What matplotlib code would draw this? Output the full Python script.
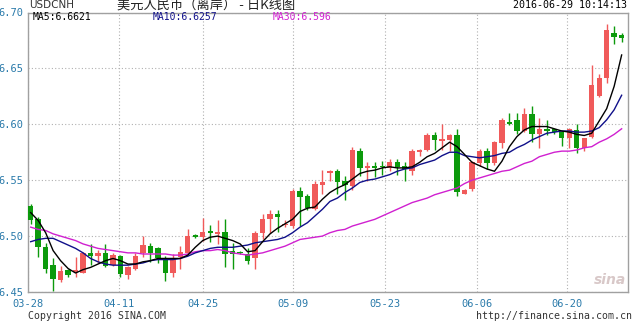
import matplotlib
matplotlib.use("Agg")
import matplotlib.pyplot as plt
import numpy as np

# daily bars USD/CNH, 2016-03-28 .. 2016-06-29 (incl. short weekend bars)
opens = [6.527, 6.515, 6.490, 6.474, 6.461, 6.470, 6.468, 6.467, 6.485, 6.482,
         6.485, 6.474, 6.482, 6.465, 6.471, 6.485, 6.491, 6.489, 6.480, 6.467,
         6.481, 6.485, 6.501, 6.499, 6.505, 6.502, 6.504, 6.487, 6.486, 6.484,
         6.480, 6.503, 6.515, 6.520, 6.510, 6.509, 6.540, 6.536, 6.524, 6.546,
         6.556, 6.558, 6.549, 6.545, 6.576, 6.561, 6.563, 6.563, 6.561, 6.566,
         6.563, 6.558, 6.575, 6.577, 6.590, 6.585, 6.586, 6.590, 6.538, 6.542,
         6.565, 6.576, 6.565, 6.583, 6.602, 6.604, 6.594, 6.609, 6.591, 6.596,
         6.596, 6.593, 6.588, 6.595, 6.579, 6.589, 6.625, 6.641, 6.682, 6.680]
highs = [6.529, 6.517, 6.494, 6.480, 6.473, 6.471, 6.481, 6.486, 6.493, 6.488,
         6.493, 6.485, 6.483, 6.473, 6.485, 6.500, 6.494, 6.490, 6.482, 6.484,
         6.491, 6.506, 6.502, 6.516, 6.510, 6.514, 6.515, 6.494, 6.487, 6.489,
         6.505, 6.520, 6.523, 6.523, 6.514, 6.542, 6.544, 6.538, 6.549, 6.559,
         6.559, 6.560, 6.554, 6.580, 6.579, 6.566, 6.566, 6.567, 6.569, 6.569,
         6.566, 6.578, 6.578, 6.592, 6.593, 6.600, 6.591, 6.596, 6.542, 6.567,
         6.578, 6.579, 6.585, 6.606, 6.610, 6.610, 6.615, 6.616, 6.606, 6.604,
         6.596, 6.594, 6.597, 6.600, 6.588, 6.653, 6.645, 6.690, 6.688, 6.682]
lows = [6.511, 6.481, 6.467, 6.451, 6.459, 6.463, 6.463, 6.467, 6.474, 6.476,
        6.472, 6.473, 6.463, 6.462, 6.470, 6.481, 6.477, 6.476, 6.460, 6.463,
        6.471, 6.483, 6.498, 6.496, 6.495, 6.493, 6.472, 6.471, 6.484, 6.475,
        6.471, 6.497, 6.503, 6.504, 6.508, 6.507, 6.509, 6.523, 6.523, 6.538,
        6.549, 6.538, 6.532, 6.541, 6.554, 6.549, 6.553, 6.555, 6.558, 6.555,
        6.549, 6.555, 6.572, 6.576, 6.577, 6.577, 6.576, 6.536, 6.538, 6.540,
        6.563, 6.560, 6.564, 6.579, 6.599, 6.591, 6.593, 6.584, 6.579, 6.590,
        6.591, 6.581, 6.579, 6.574, 6.576, 6.588, 6.624, 6.637, 6.672, 6.674]
closes = [6.514, 6.490, 6.471, 6.462, 6.469, 6.465, 6.470, 6.485, 6.482, 6.485,
          6.473, 6.483, 6.466, 6.472, 6.482, 6.492, 6.485, 6.480, 6.467, 6.480,
          6.486, 6.500, 6.499, 6.504, 6.503, 6.504, 6.484, 6.484, 6.485, 6.478,
          6.503, 6.515, 6.520, 6.517, 6.511, 6.540, 6.535, 6.525, 6.547, 6.548,
          6.558, 6.548, 6.546, 6.577, 6.561, 6.563, 6.561, 6.562, 6.566, 6.562,
          6.560, 6.576, 6.577, 6.590, 6.586, 6.587, 6.590, 6.539, 6.541, 6.566,
          6.576, 6.565, 6.584, 6.604, 6.600, 6.594, 6.609, 6.591, 6.596, 6.594,
          6.593, 6.588, 6.596, 6.579, 6.588, 6.635, 6.641, 6.684, 6.678, 6.677]

# moving averages as shown on the chart
ma5 = [6.521, 6.514, 6.503, 6.487, 6.478, 6.471, 6.467, 6.470, 6.472, 6.475,
       6.478, 6.480, 6.478, 6.475, 6.475, 6.477, 6.478, 6.480, 6.480, 6.480,
       6.480, 6.483, 6.490, 6.496, 6.499, 6.500, 6.498, 6.496, 6.493, 6.486,
       6.487, 6.495, 6.502, 6.507, 6.511, 6.515, 6.522, 6.525, 6.526, 6.533,
       6.539, 6.543, 6.546, 6.551, 6.556, 6.558, 6.559, 6.561, 6.562, 6.561,
       6.561, 6.562, 6.566, 6.571, 6.574, 6.579, 6.584, 6.580, 6.573, 6.566,
       6.563, 6.560, 6.558, 6.567, 6.580, 6.589, 6.595, 6.598, 6.598, 6.598,
       6.596, 6.594, 6.593, 6.591, 6.590, 6.592, 6.603, 6.614, 6.634, 6.662]
ma10 = [6.495, 6.497, 6.498, 6.498, 6.495, 6.492, 6.489, 6.485, 6.480, 6.477,
        6.475, 6.474, 6.474, 6.474, 6.475, 6.476, 6.478, 6.479, 6.479, 6.479,
        6.480, 6.482, 6.485, 6.487, 6.489, 6.490, 6.490, 6.490, 6.491, 6.492,
        6.494, 6.495, 6.496, 6.497, 6.499, 6.503, 6.508, 6.512, 6.518, 6.524,
        6.531, 6.534, 6.539, 6.543, 6.548, 6.550, 6.551, 6.553, 6.555, 6.558,
        6.560, 6.561, 6.564, 6.566, 6.568, 6.572, 6.575, 6.575, 6.572, 6.571,
        6.570, 6.571, 6.572, 6.574, 6.575, 6.579, 6.582, 6.586, 6.589, 6.592,
        6.593, 6.594, 6.594, 6.593, 6.593, 6.594, 6.597, 6.604, 6.613, 6.626]
ma30 = [6.508, 6.506, 6.505, 6.502, 6.500, 6.498, 6.496, 6.493, 6.491, 6.489,
        6.488, 6.487, 6.486, 6.485, 6.485, 6.484, 6.484, 6.484, 6.484, 6.483,
        6.483, 6.484, 6.486, 6.487, 6.487, 6.488, 6.487, 6.485, 6.484, 6.483,
        6.484, 6.485, 6.487, 6.489, 6.491, 6.494, 6.497, 6.498, 6.499, 6.500,
        6.503, 6.505, 6.506, 6.509, 6.511, 6.513, 6.515, 6.518, 6.521, 6.524,
        6.527, 6.530, 6.532, 6.534, 6.537, 6.539, 6.541, 6.543, 6.547, 6.550,
        6.552, 6.554, 6.556, 6.558, 6.559, 6.562, 6.565, 6.567, 6.571, 6.573,
        6.575, 6.576, 6.576, 6.577, 6.579, 6.580, 6.584, 6.587, 6.591, 6.596]

date_labels = ["03-28", "04-11", "04-25", "05-09", "05-23", "06-06", "06-20"]
date_pos = [-0.36, 11.85, 23.0, 35.1, 47.3, 59.6, 71.7]
y_ticks = [6.45, 6.50, 6.55, 6.60, 6.65, 6.70]

RED = "#f05a5a"
GREEN = "#0c9a0c"
BLUE_TXT = "#2a7aaa"

fig = plt.figure(figsize=(6.4, 3.25), dpi=100)
ax = fig.add_axes([28 / 640, 33 / 325, 600 / 640, 279.5 / 325])

o = np.array(opens); h = np.array(highs); l = np.array(lows); c = np.array(closes)
x = np.arange(len(o))
up = c >= o
cols = np.where(up, RED, GREEN)

# candles: wicks, then bodies
ax.vlines(x, l, h, colors=cols, linewidth=1, zorder=2)
body_lo = np.minimum(o, c)
body_h = np.maximum(np.abs(c - o), 0.0007)
ax.bar(x, body_h, bottom=body_lo, width=0.72, color=cols, linewidth=0, zorder=3)

ax.plot(x, ma30, color="#d020d0", linewidth=1, zorder=4)
ax.plot(x, ma10, color="#10108a", linewidth=1, zorder=5)
ax.plot(x, ma5, color="black", linewidth=1, zorder=6)

ax.set_xlim(-0.36, 79.85)
ax.set_ylim(6.45, 6.70)
ax.set_yticks(y_ticks)
ax.set_yticklabels(["%.2f" % v for v in y_ticks])
ax.set_xticks(date_pos)
ax.set_xticklabels(date_labels)
ax.tick_params(length=0, labelsize=7.5, labelcolor=BLUE_TXT)
ax.tick_params(axis="y", pad=3)
ax.tick_params(axis="x", pad=5)
for t in ax.get_xticklabels() + ax.get_yticklabels():
    t.set_family("DejaVu Sans Mono")
ax.grid(True, color="#b0b0b0", linestyle=(0, (1, 2)), linewidth=0.8)
ax.set_axisbelow(True)
for s in ax.spines.values():
    s.set_color("#a0a0a0")
    s.set_linewidth(1)

# legend texts inside the plot
ma_kw = dict(transform=ax.transAxes, fontsize=7, family="DejaVu Sans Mono", va="center")
ax.text(5 / 600, 1 - 4 / 279.5, "MA5:6.6621", color="black", **ma_kw)
ax.text(125 / 600, 1 - 4 / 279.5, "MA10:6.6257", color="#10108a", **ma_kw)
ax.text(245 / 600, 1 - 4 / 279.5, "MA30:6.596", color="#d020d0", **ma_kw)

# header / footer
fig.text(29 / 640, 1 - 5 / 325, "USDCNH", fontsize=7.5, color="#333333", va="center",
         family="Liberation Sans Narrow")
fig.text(117 / 640, 1 - 5 / 325, "美元人民币（离岸） - 日K线图", fontsize=9.5, color="#222222",
         va="center", family=["Noto Sans CJK SC", "DejaVu Sans"])
fig.text(627 / 640, 1 - 5 / 325, "2016-06-29 10:14:13", fontsize=7.2, color="black",
         va="center", ha="right", family="DejaVu Sans Mono")
fig.text(28 / 640, 1 - 316 / 325, "Copyright 2016 SINA.COM", fontsize=7.1, color="#333333",
         va="center", family="DejaVu Sans Mono")
fig.text(632 / 640, 1 - 316 / 325, "http://finance.sina.com.cn", fontsize=7.1, color="#333333",
         va="center", ha="right", family="DejaVu Sans Mono")
ax.text(598 / 600, 5 / 279.5, "sina", transform=ax.transAxes, fontsize=10, color="#d8c8c8",
        ha="right", va="bottom", style="italic", fontweight="bold")

fig.savefig("out.png", dpi=100)
